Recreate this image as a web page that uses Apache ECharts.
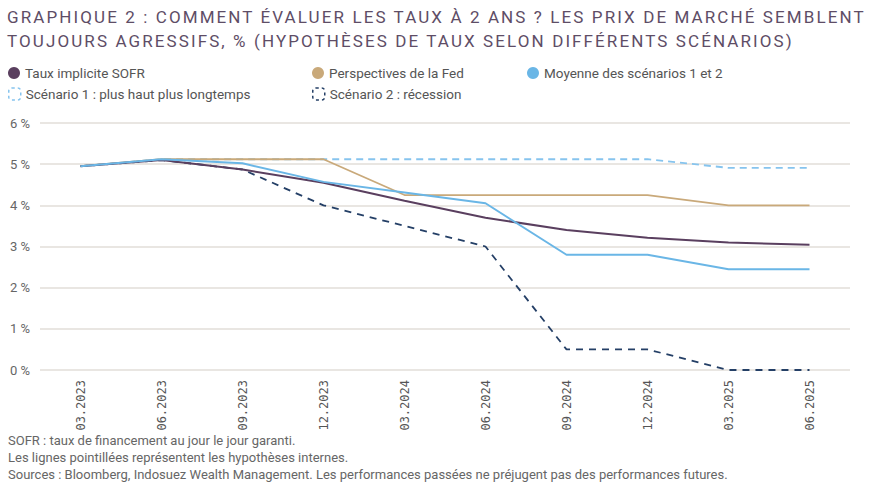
<!DOCTYPE html>
<html><head><meta charset="utf-8">
<script src="https://cdn.jsdelivr.net/npm/echarts@6/dist/echarts.min.js"></script>
<style>html,body{margin:0;padding:0;background:#fff}#c{width:883px;height:487px}</style>
</head><body><div id="c"></div>
<script>
const categories = ['03.2023','06.2023','09.2023','12.2023','03.2024','06.2024','09.2024','12.2024','03.2025','06.2025'];
const sofr = [4.95, 5.10, 4.87, 4.55, 4.11, 3.70, 3.40, 3.21, 3.10, 3.04];
const fed = [4.95, 5.12, 5.12, 5.12, 4.25, 4.25, 4.25, 4.25, 4.00, 4.00];
const average = [4.95, 5.12, 5.02, 4.57, 4.31, 4.05, 2.80, 2.80, 2.45, 2.45];
const scenario1 = [4.95, 5.12, 5.12, 5.12, 5.12, 5.12, 5.12, 5.12, 4.91, 4.91];
const scenario2 = [4.95, 5.10, 4.87, 4.00, 3.50, 3.00, 0.50, 0.50, 0.00, 0.00];
const yTicks = [0, 1, 2, 3, 4, 5, 6];

const names = ['Taux implicite SOFR','Perspectives de la Fed','Moyenne des scénarios 1 et 2','Scénario 1 : plus haut plus longtemps','Scénario 2 : récession'];
const colors = {sofr:'#5a3f5f', fed:'#c9a97a', avg:'#6ab6e6', s1:'#86c4ee', s2:'#243f66'};
const font = 'Roboto, "Noto Sans", sans-serif';
const legendText = {color:'#555', fontSize:13.5, fontFamily:font};

function legend(name, left, top, icon, itemStyle){
  return {data:[{name, icon, itemStyle}], left, top, itemWidth:12, itemHeight:12, itemGap:0,
    textStyle:legendText, padding:0, selectedMode:false};
}

const chart = echarts.init(document.getElementById('c'), null, {renderer:'svg'});
chart.setOption({
  animation:false,
  title:{
    text:'GRAPHIQUE 2 : COMMENT ÉVALUER LES TAUX À 2 ANS ? LES PRIX DE MARCHÉ SEMBLENT\nTOUJOURS AGRESSIFS, % (HYPOTHÈSES DE TAUX SELON DIFFÉRENTS SCÉNARIOS)',
    left:7, top:5, padding:0,
    textStyle:{color:'#5e4d66', fontSize:17, fontWeight:'normal', fontFamily:font, lineHeight:24}
  },
  legend:[
    legend(names[0], 8, 66, 'circle', {color:colors.sofr}),
    legend(names[1], 312, 66, 'circle', {color:colors.fed}),
    legend(names[2], 527, 66, 'circle', {color:colors.avg}),
    legend(names[3], 8, 87, 'roundRect', {color:'transparent', borderColor:colors.s1, borderWidth:1.5, borderType:[3,3]}),
    legend(names[4], 312, 87, 'roundRect', {color:'transparent', borderColor:colors.s2, borderWidth:1.5, borderType:[3,3]})
  ],
  grid:{left:40, right:33, top:123, bottom:117, containLabel:false},
  xAxis:{
    type:'category', data:categories, boundaryGap:true,
    axisLine:{show:false}, axisTick:{show:false},
    axisLabel:{rotate:90, color:'#555', fontSize:12, fontFamily:'"DejaVu Sans Mono", monospace', margin:10}
  },
  yAxis:{
    type:'value', min:0, max:6, interval:1,
    axisLine:{show:false}, axisTick:{show:false},
    axisLabel:{color:'#666', fontSize:13, fontFamily:font, margin:10, formatter:v=>v+' %'},
    splitLine:{lineStyle:{color:'#e2ded9', width:1.5}}
  },
  series:[
    {name:names[4], type:'line', data:scenario2, symbol:'none', z:2, lineStyle:{color:colors.s2, width:1.8, type:[7,6]}, itemStyle:{color:colors.s2}},
    {name:names[3], type:'line', data:scenario1, symbol:'none', z:2, lineStyle:{color:colors.s1, width:1.8, type:[7,5]}, itemStyle:{color:colors.s1}},
    {name:names[1], type:'line', data:fed, symbol:'none', z:3, lineStyle:{color:colors.fed, width:1.8}, itemStyle:{color:colors.fed}},
    {name:names[0], type:'line', data:sofr, symbol:'none', z:4, lineStyle:{color:colors.sofr, width:2}, itemStyle:{color:colors.sofr}},
    {name:names[2], type:'line', data:average, symbol:'none', z:5, lineStyle:{color:colors.avg, width:2}, itemStyle:{color:colors.avg}}
  ],
  graphic:[
    {type:'text', left:8, top:434, style:{text:'SOFR : taux de financement au jour le jour garanti.', fill:'#666', font:'13px '+font}},
    {type:'text', left:8, top:451, style:{text:'Les lignes pointillées représentent les hypothèses internes.', fill:'#666', font:'13px '+font}},
    {type:'text', left:8, top:468, style:{text:'Sources : Bloomberg, Indosuez Wealth Management. Les performances passées ne préjugent pas des performances futures.', fill:'#666', font:'13px '+font}}
  ]
});
function spaceTitle(){
  document.querySelectorAll('#c svg text').forEach(t=>{
    const s = t.textContent || '';
    if (s.startsWith('GRAPHIQUE') || s.startsWith('TOUJOURS')) t.style.letterSpacing = '2.1px';
  });
}
chart.on('finished', spaceTitle);
spaceTitle();
setTimeout(spaceTitle, 0);
setTimeout(spaceTitle, 50);
</script></body></html>
